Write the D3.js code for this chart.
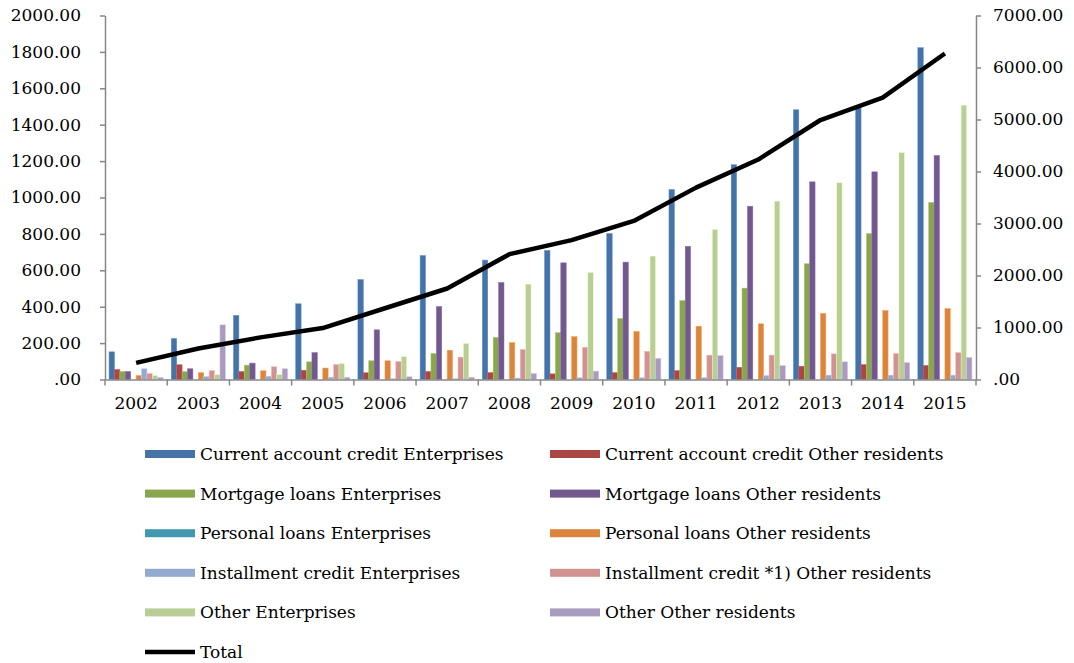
<!DOCTYPE html>
<html><head><meta charset="utf-8">
<script src="https://cdn.jsdelivr.net/npm/d3@7"></script>
<style>
body{margin:0;background:#fff;}
svg{display:block;font-family:"DejaVu Serif",serif;}
</style></head>
<body><svg id="c" width="1074" height="663"></svg>
<script>
const years = ["2002","2003","2004","2005","2006","2007","2008","2009","2010","2011","2012","2013","2014","2015"];
const currentEnt = [152,225,352,416,549,681,656,709,802,1044,1180,1482,1493,1823];
const currentOth = [55,81,44,51,37,44,38,31,38,49,67,73,82,77];
const mortgageEnt = [44,44,79,97,103,143,231,257,335,434,502,636,802,973];
const mortgageOth = [44,59,90,148,273,401,533,641,645,732,952,1086,1141,1231];
const personalEnt = [0,0,0,0,0,0,0,0,0,0,0,0,0,0];
const personalOth = [22,38,48,63,103,161,203,236,264,293,306,363,379,390];
const installEnt = [59,16,18,13,5,5,8,10,10,11,22,24,24,24];
const installOth = [33,49,70,82,99,123,165,177,155,134,134,141,143,148];
const otherEnt = [22,27,27,88,126,198,524,588,678,824,980,1081,1247,1507];
const otherOth = [11,300,59,12,15,12,33,46,116,131,76,97,93,121];
const total = [320,596,810,990,1370,1750,2410,2680,3050,3690,4230,4990,5420,6270];
const leftTicks = [0,200,400,600,800,1000,1200,1400,1600,1800,2000];
const rightTicks = [0,1000,2000,3000,4000,5000,6000,7000];

const seriesNames = ["Current account credit Enterprises","Current account credit Other residents",
 "Mortgage loans Enterprises","Mortgage loans Other residents",
 "Personal loans Enterprises","Personal loans Other residents",
 "Installment credit Enterprises","Installment credit *1) Other residents",
 "Other Enterprises","Other Other residents"];
const seriesValues = [currentEnt,currentOth,mortgageEnt,mortgageOth,personalEnt,personalOth,installEnt,installOth,otherEnt,otherOth];
const colors = ["#4572A7","#AA4643","#89A54E","#71588F","#4198AF","#DB843D","#93A9CF","#D19392","#B9CD96","#A99BBD"];

const svg = d3.select("#c");
const L=105, R=976, T=15.5, B=379.5;
const x = d3.scaleBand().domain(years).range([L,R]).padding(0);
const step = x.step();
const bw = step/11.5;
const xs = d3.scaleBand().domain(d3.range(seriesNames.length)).range([0.75*bw, step-0.75*bw]).padding(0);
const yL = d3.scaleLinear().domain([0,2000]).range([B,T]);
const yR = d3.scaleLinear().domain([0,7000]).range([B,T]);
const axisColor="#878787";

// bars
seriesValues.forEach((vals,si)=>{
  svg.append("g").selectAll("rect").data(vals).join("rect")
    .attr("x",(d,i)=>x(years[i])+xs(si))
    .attr("width",xs.bandwidth())
    .attr("y",d=>yL(d))
    .attr("height",d=>B-yL(d))
    .attr("fill",colors[si])
    .attr("stroke", d=>d>0? d3.color(colors[si]).brighter(0.6):"none")
    .attr("stroke-width",0.5);
});

// total line
svg.append("path").datum(total)
  .attr("d", d3.line().x((d,i)=>x(years[i])+step/2).y(d=>yR(d)))
  .attr("fill","none").attr("stroke","#000").attr("stroke-width",4.5).attr("stroke-linejoin","round");

const fmt = v => v===0 ? ".00" : v.toFixed(2);
// left axis
const gl = svg.append("g").attr("transform",`translate(${L},0)`)
  .call(d3.axisLeft(yL).tickValues(leftTicks).tickFormat(fmt).tickSize(5).tickSizeOuter(0).tickPadding(19));
// right axis
const gr = svg.append("g").attr("transform",`translate(${R},0)`)
  .call(d3.axisRight(yR).tickValues(rightTicks).tickFormat(fmt).tickSize(5).tickSizeOuter(0).tickPadding(12));
// bottom axis
const gb = svg.append("g").attr("transform",`translate(0,${B})`)
  .call(d3.axisBottom(x).tickSize(0).tickPadding(17));
// category boundary ticks
svg.append("g").selectAll("line").data(d3.range(years.length+1)).join("line")
  .attr("x1",i=>L+i*step).attr("x2",i=>L+i*step).attr("y1",B).attr("y2",B+6)
  .attr("stroke",axisColor).attr("stroke-width",1.5);

[gl,gr,gb].forEach(g=>{
  g.selectAll("path.domain").attr("stroke",axisColor).attr("stroke-width",1.5);
  g.selectAll(".tick line").attr("stroke",axisColor).attr("stroke-width",1.5);
  g.selectAll("text").attr("font-family","DejaVu Serif").attr("font-size",17).attr("fill","#000");
});

// legend
const legendItems = seriesNames.map((n,i)=>({name:n,color:colors[i],type:"bar"}));
legendItems.push({name:"Total",color:"#000",type:"line"});
const colX=[145,550], rowY0=454, rowH=39.6;
const lg = svg.append("g");
legendItems.forEach((it,i)=>{
  const cx = colX[i%2], cy = rowY0 + Math.floor(i/2)*rowH;
  if(it.type==="bar"){
    lg.append("rect").attr("x",cx).attr("y",cy-4).attr("width",50).attr("height",8).attr("fill",it.color);
  } else {
    lg.append("line").attr("x1",cx).attr("x2",cx+50).attr("y1",cy).attr("y2",cy).attr("stroke","#000").attr("stroke-width",4.5);
  }
  lg.append("text").attr("x",cx+55).attr("y",cy).attr("dy","0.35em")
    .attr("font-family","DejaVu Serif").attr("font-size",17).text(it.name);
});
</script></body></html>
